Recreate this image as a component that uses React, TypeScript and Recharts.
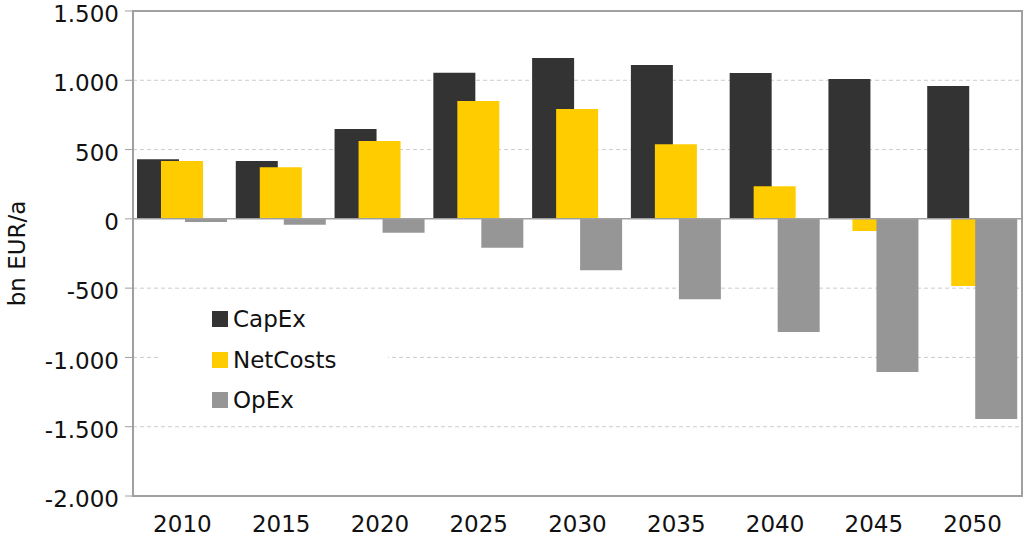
import React from 'react';
import { BarChart, Bar, XAxis, YAxis, CartesianGrid, ReferenceLine, ReferenceArea, Legend } from 'recharts';

const years = ['2010', '2015', '2020', '2025', '2030', '2035', '2040', '2045', '2050'];
const capEx = [431, 417, 648, 1054, 1160, 1110, 1052, 1009, 958];
const netCosts = [417, 373, 561, 850, 792, 539, 236, -87, -484];
const opEx = [-22, -43, -101, -209, -370, -580, -816, -1105, -1444];
const yTicks = [-2000, -1500, -1000, -500, 0, 500, 1000, 1500];

const seriesNames = ['CapEx', 'NetCosts', 'OpEx'];
const seriesColors = ['#333333', '#FFCC00', '#969696'];

const data = years.map((y, i) => ({ year: y, CapEx: capEx[i], NetCosts: netCosts[i], OpEx: opEx[i] }));

const FONT = '"DejaVu Sans", Verdana, sans-serif';
const AXIS = '#a0a0a0';

const fmt = (v: number) => {
  const neg = v < 0;
  const s = String(Math.abs(v)).replace(/\B(?=(\d{3})+(?!\d))/g, '.');
  return (neg ? '-' : '') + s;
};

const LegendBox = () => (
  <div style={{ position: 'relative', background: '#fff', width: 230, height: 115, fontFamily: FONT, fontSize: 23, color: '#111' }}>
    {seriesNames.map((n, i) => (
      <div key={n} style={{ position: 'absolute', left: 54, top: 11 + i * 40.5, display: 'flex', alignItems: 'center', height: 16, whiteSpace: 'nowrap' }}>
        <div style={{ width: 16, height: 16, background: seriesColors[i], marginRight: 5 }} />
        <span style={{ lineHeight: '16px' }}>{n}</span>
      </div>
    ))}
  </div>
);

export default function App() {
  return (
    <div style={{ position: 'absolute', left: 0, top: 0, width: 1025, height: 536, background: '#fff' }}>
      <BarChart
        width={1025}
        height={536}
        data={data}
        margin={{ top: 11, right: 3, bottom: 0, left: 0 }}
        barSize={42}
        barGap={-18}
      >
        <CartesianGrid vertical={false} stroke="#cccccc" strokeDasharray="4 3" horizontalValues={[-1500, -1000, -500, 500, 1000]} />
        <XAxis
          dataKey="year"
          height={40}
          axisLine={{ stroke: AXIS, strokeWidth: 2 }}
          tickLine={false}
          tick={{ fontFamily: FONT, fontSize: 23, fill: '#111' }}
          tickMargin={14}
        />
        <YAxis
          domain={[-2000, 1500]}
          ticks={yTicks}
          interval={0}
          width={133}
          tickFormatter={fmt}
          axisLine={{ stroke: AXIS, strokeWidth: 2 }}
          tickLine={{ stroke: AXIS }}
          tickSize={8}
          tickMargin={6}
          tick={{ fontFamily: FONT, fontSize: 23, fill: '#111', dy: 3 }}
          label={{ value: 'bn EUR/a', angle: -90, position: 'insideLeft', offset: 17, style: { fontFamily: FONT, fontSize: 23, fill: '#111', textAnchor: 'middle' } }}
        />
        <ReferenceArea y1={-2000} y2={1500} fill="none" stroke={AXIS} strokeWidth={2} ifOverflow="visible" />
        <ReferenceLine y={0} stroke={AXIS} strokeWidth={1.5} />
        <Legend
          content={<LegendBox />}
          layout="vertical"
          verticalAlign="middle"
          align="center"
          wrapperStyle={{ left: 158, top: 300, width: 230, height: 115 }}
        />
        {seriesNames.map((n, i) => (
          <Bar key={n} dataKey={n} fill={seriesColors[i]} isAnimationActive={false} />
        ))}
      </BarChart>
    </div>
  );
}
